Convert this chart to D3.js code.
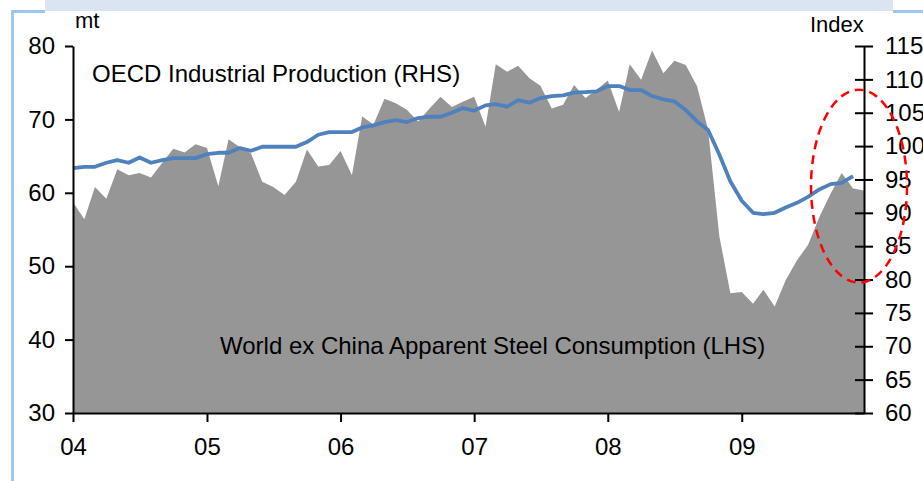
<!DOCTYPE html>
<html>
<head>
<meta charset="utf-8">
<script src="https://cdn.jsdelivr.net/npm/d3@7"></script>
<style>
  body { margin: 0; background: #fff; }
  svg { display: block; font-family: "Liberation Sans", Arial, sans-serif; }
  .axis text { font-size: 24px; fill: #000; }
  .axis path, .axis line { stroke: #000; stroke-width: 2px; }
</style>
</head>
<body>
<svg id="chart" width="923" height="481"></svg>
<script>
// monthly, Jan 2004 .. Dec 2009 (mt, left axis)
const steelConsumption = [
  58.7, 56.4, 60.8, 59.2, 63.2, 62.4, 62.7, 62.1, 64.1, 66.0, 65.5, 66.6,
  66.1, 60.9, 67.3, 66.2, 65.4, 61.5, 60.8, 59.7, 61.5, 65.9, 63.6, 63.8,
  65.7, 62.4, 70.4, 69.3, 72.8, 72.2, 71.3, 69.7, 71.5, 73.1, 71.7, 72.4,
  73.1, 69.0, 77.5, 76.5, 77.3, 75.6, 74.6, 71.5, 72.0, 74.7, 72.9, 74.0,
  75.3, 71.0, 77.5, 75.4, 79.4, 76.3, 78.0, 77.4, 74.5, 68.6, 54.0, 46.3,
  46.5, 44.9, 46.8, 44.5, 48.1, 50.8, 52.9, 56.7, 59.9, 62.7, 60.6, 60.3
];

// monthly, Jan 2004 .. Nov 2009 (index, right axis)
const oecdIP = [
  96.7, 96.9, 96.9, 97.5, 97.9, 97.5, 98.3, 97.5, 97.9, 98.2, 98.2, 98.2,
  98.8, 99.0, 99.0, 99.7, 99.3, 99.9, 99.9, 99.9, 99.9, 100.6, 101.7, 102.1,
  102.1, 102.1, 102.8, 103.1, 103.6, 103.9, 103.6, 104.2, 104.4, 104.4, 105.0, 105.7,
  105.3, 106.1, 106.3, 105.9, 106.9, 106.5, 107.2, 107.5, 107.6, 108.0, 108.1, 108.2,
  109.0, 109.0, 108.4, 108.4, 107.5, 107.0, 106.7, 105.4, 103.7, 102.4, 98.7, 94.7,
  91.8, 90.0, 89.8, 90.0, 90.8, 91.5, 92.4, 93.5, 94.3, 94.5, 95.5
];

const yearLabels = ["04", "05", "06", "07", "08", "09"];
const leftTicks = [30, 40, 50, 60, 70, 80];
const rightTicks = [60, 65, 70, 75, 80, 85, 90, 95, 100, 105, 110, 115];

const startDate = new Date(2004, 0, 1);
const monthDate = i => d3.timeMonth.offset(startDate, i);

const svg = d3.select("#chart");

const plotLeft = 73, plotRight = 864, plotTop = 46, plotBottom = 413;

const x = d3.scaleTime()
  .domain([startDate, monthDate(71)])
  .range([plotLeft, plotRight]);

const yLeft = d3.scaleLinear().domain([30, 80]).range([plotBottom, plotTop]);
const yRight = d3.scaleLinear().domain([60, 115]).range([plotBottom, plotTop]);

/* frame decoration */
svg.append("rect")
  .attr("x", 45).attr("y", 0)
  .attr("width", 848).attr("height", 11)
  .attr("fill", "#dbe5f1");
svg.append("path")
  .attr("d", "M12.5,481 V11.5 H45 M893,11.5 H923")
  .attr("fill", "none")
  .attr("stroke", "#9cc8f0")
  .attr("stroke-width", 3);

/* area */
const area = d3.area()
  .x((d, i) => x(monthDate(i)))
  .y0(yLeft(30))
  .y1(d => yLeft(d));

svg.append("path")
  .datum(steelConsumption)
  .attr("d", area)
  .attr("fill", "#969696");

/* line */
const line = d3.line()
  .x((d, i) => x(monthDate(i)))
  .y(d => yRight(d));

svg.append("path")
  .datum(oecdIP)
  .attr("d", line)
  .attr("fill", "none")
  .attr("stroke", "#4f81bd")
  .attr("stroke-width", 3.8)
  .attr("stroke-linejoin", "round");

/* axes */
svg.append("g")
  .attr("class", "axis")
  .attr("transform", `translate(${plotLeft},0)`)
  .call(d3.axisLeft(yLeft).tickValues(leftTicks).tickSize(8).tickSizeOuter(0).tickPadding(10));

const rAxis = svg.append("g")
  .attr("class", "axis")
  .attr("transform", `translate(${plotRight},0)`)
  .call(d3.axisRight(yRight).tickValues(rightTicks).tickSize(9).tickSizeOuter(0).tickPadding(12));
rAxis.selectAll(".tick line").attr("x1", -9);

const yearDates = yearLabels.map((d, i) => new Date(2004 + i, 0, 1));
svg.append("g")
  .attr("class", "axis")
  .attr("transform", `translate(0,${plotBottom})`)
  .call(d3.axisBottom(x).tickValues(yearDates).tickFormat((d, i) => yearLabels[i])
    .tickSize(9).tickSizeOuter(0).tickPadding(16));

/* unit labels */
svg.append("text").attr("x", 75).attr("y", 28)
  .attr("font-size", 22).text("mt");
svg.append("text").attr("x", 810).attr("y", 32)
  .attr("font-size", 22).text("Index");

/* series labels */
svg.append("text").attr("x", 92).attr("y", 82)
  .attr("font-size", 24).text("OECD Industrial Production (RHS)");
svg.append("text").attr("x", 220).attr("y", 354)
  .attr("font-size", 24).text("World ex China Apparent Steel Consumption (LHS)");

/* highlight ellipse around latest months */
svg.append("ellipse")
  .attr("cx", x(monthDate(70)) + 6)
  .attr("cy", yRight(94))
  .attr("rx", 48)
  .attr("ry", yRight(80) - yRight(94) + 3)
  .attr("fill", "none")
  .attr("stroke", "#ff0000")
  .attr("stroke-width", 2.5)
  .attr("stroke-dasharray", "9,6");
</script>
</body>
</html>
